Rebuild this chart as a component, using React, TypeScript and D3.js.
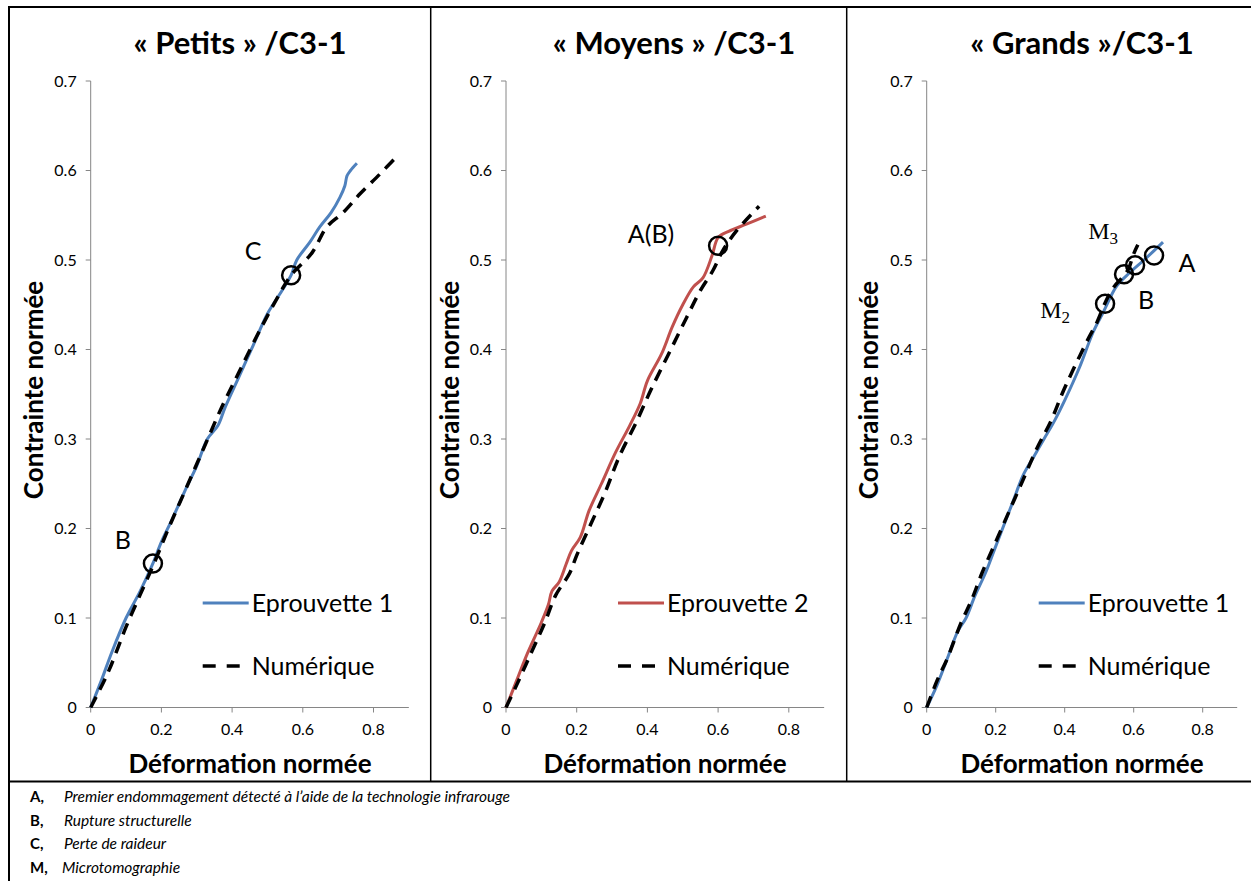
import React from "react";
import * as d3 from "d3";

// ---------- DATA ----------
const titles = ["« Petits » /C3-1", "« Moyens » /C3-1", "« Grands »/C3-1"];
const seriesNames = ["Eprouvette 1", "Eprouvette 2", "Eprouvette 1"];
const numName = "Numérique";
const xTicks = [0, 0.2, 0.4, 0.6, 0.8];
const yTicks = [0, 0.1, 0.2, 0.3, 0.4, 0.5, 0.6, 0.7];
const xLabel = "Déformation normée";
const yLabel = "Contrainte normée";

const expPetits: [number, number][] = [
  [0, 0], [0.03, 0.03], [0.06, 0.062], [0.1, 0.1], [0.14, 0.13], [0.176, 0.161], [0.2, 0.185],
  [0.23, 0.21], [0.27, 0.245], [0.3, 0.27], [0.33, 0.3], [0.36, 0.315], [0.38, 0.335],
  [0.42, 0.37], [0.46, 0.405], [0.5, 0.44], [0.54, 0.465], [0.567, 0.483], [0.583, 0.5],
  [0.62, 0.52], [0.648, 0.537], [0.68, 0.553], [0.705, 0.57], [0.719, 0.583], [0.725, 0.594],
  [0.735, 0.6], [0.753, 0.608],
];
const numPetits: [number, number][] = [
  [0, 0], [0.05, 0.04], [0.1, 0.09], [0.15, 0.135], [0.176, 0.158], [0.22, 0.2], [0.27, 0.245],
  [0.32, 0.29], [0.37, 0.335], [0.42, 0.375], [0.47, 0.415], [0.52, 0.452], [0.567, 0.483],
  [0.626, 0.508], [0.668, 0.537], [0.714, 0.553], [0.762, 0.574], [0.818, 0.596], [0.869, 0.617],
];
const expMoyens: [number, number][] = [
  [0, 0], [0.03, 0.03], [0.06, 0.06], [0.1, 0.095], [0.12, 0.115], [0.13, 0.13], [0.15, 0.14],
  [0.17, 0.16], [0.185, 0.175], [0.21, 0.19], [0.235, 0.22], [0.27, 0.25], [0.31, 0.285],
  [0.35, 0.315], [0.38, 0.34], [0.4, 0.365], [0.44, 0.395], [0.47, 0.425], [0.5, 0.45],
  [0.53, 0.47], [0.557, 0.48], [0.583, 0.505], [0.6, 0.525], [0.63, 0.532], [0.68, 0.54],
  [0.735, 0.549],
];
const numMoyens: [number, number][] = [
  [0, 0], [0.03, 0.025], [0.07, 0.06], [0.11, 0.095], [0.14, 0.125], [0.18, 0.15], [0.2, 0.17],
  [0.24, 0.205], [0.28, 0.24], [0.32, 0.28], [0.37, 0.32], [0.41, 0.355], [0.46, 0.395],
  [0.51, 0.435], [0.55, 0.466], [0.585, 0.488], [0.614, 0.511], [0.653, 0.533], [0.716, 0.56],
];
const expGrands: [number, number][] = [
  [0, 0], [0.03, 0.025], [0.06, 0.055], [0.09, 0.085], [0.114, 0.1], [0.14, 0.125], [0.17, 0.15],
  [0.2, 0.18], [0.22, 0.2], [0.25, 0.23], [0.28, 0.26], [0.31, 0.28], [0.34, 0.3], [0.37, 0.32],
  [0.401, 0.344], [0.444, 0.381], [0.482, 0.419], [0.511, 0.441], [0.551, 0.471], [0.589, 0.486],
  [0.63, 0.5], [0.685, 0.52],
];
const numGrands: [number, number][] = [
  [0, 0], [0.03, 0.03], [0.06, 0.055], [0.1, 0.095], [0.13, 0.12], [0.16, 0.15], [0.2, 0.185],
  [0.24, 0.22], [0.28, 0.255], [0.32, 0.29], [0.36, 0.32], [0.392, 0.35], [0.424, 0.377],
  [0.467, 0.411], [0.493, 0.43], [0.517, 0.452], [0.541, 0.469], [0.57, 0.482], [0.585, 0.49],
  [0.599, 0.506], [0.612, 0.517],
];

// annotations: label, x, y (data coords of circle), label offset (px)
type Ann = { label: string; sub?: string; x: number; y: number; dx: number; dy: number; serif?: boolean };
const annPetits: Ann[] = [
  { label: "B", x: 0.176, y: 0.161, dx: -30, dy: -14 },
  { label: "C", x: 0.567, y: 0.483, dx: -38, dy: -15 },
];
const annMoyens: Ann[] = [{ label: "A(B)", x: 0.6, y: 0.516, dx: -67, dy: -3 }];
const annGrands: Ann[] = [
  { label: "M", sub: "2", x: 0.517, y: 0.451, dx: -50, dy: 14, serif: true },
  { label: "B", x: 0.572, y: 0.484, dx: 22, dy: 35 },
  { label: "M", sub: "3", x: 0.604, y: 0.494, dx: -32, dy: -26, serif: true },
  { label: "A", x: 0.659, y: 0.505, dx: 33, dy: 16 },
];

const footKeys = ["A,", "B,", "C,", "M,"];
const footTexts = [
  "Premier endommagement détecté à l’aide de la technologie infrarouge",
  "Rupture structurelle",
  "Perte de raideur",
  "Microtomographie",
];

const BLUE = "#4F81BD";
const RED = "#C0504D";
const FONT = "Lato, 'Open Sans', sans-serif";

const panels = [
  { title: titles[0], titleX: 240, name: seriesNames[0], color: BLUE, exp: expPetits, num: numPetits, ann: annPetits, x0: 90.7, pxPerUnit: 353.5, yLabX: 43, xLabX: 250 },
  { title: titles[1], titleX: 674, name: seriesNames[1], color: RED, exp: expMoyens, num: numMoyens, ann: annMoyens, x0: 506, pxPerUnit: 353.5, yLabX: 459, xLabX: 665 },
  { title: titles[2], titleX: 1082, name: seriesNames[2], color: BLUE, exp: expGrands, num: numGrands, ann: annGrands, x0: 926.7, pxPerUnit: 345, yLabX: 878, xLabX: 1082 },
];

const Y0 = 707.5;
const Y1 = 81;

function Panel({ p }: { p: (typeof panels)[number] }) {
  const x = d3.scaleLinear().domain([0, 0.9]).range([p.x0, p.x0 + 0.9 * p.pxPerUnit]);
  const y = d3.scaleLinear().domain([0, 0.7]).range([Y0, Y1]);
  const line = d3.line<[number, number]>().x((d) => x(d[0])).y((d) => y(d[1])).curve(d3.curveCatmullRom);
  const axisColor = "#868686";
  const legX = p.x0 + 112;
  return (
    <g>
      <text x={p.titleX} y={54} textAnchor="middle" fontFamily={FONT} fontWeight="bold" fontSize={31} fill="#000">
        {p.title}
      </text>
      {/* y axis */}
      <line x1={x(0)} x2={x(0)} y1={y(0)} y2={y(0.7)} stroke={axisColor} strokeWidth={1} />
      {yTicks.map((t) => (
        <g key={"y" + t}>
          <line x1={x(0) - 5} x2={x(0)} y1={y(t)} y2={y(t)} stroke={axisColor} />
          <text x={x(0) - 14} y={y(t) + 5.5} textAnchor="end" fontFamily={FONT} fontSize={16} fill="#000">
            {t === 0 ? "0" : t.toFixed(1)}
          </text>
        </g>
      ))}
      {/* x axis */}
      <line x1={x(0)} x2={x(0.9)} y1={y(0)} y2={y(0)} stroke={axisColor} strokeWidth={1} />
      {xTicks.map((t) => (
        <g key={"x" + t}>
          <line x1={x(t)} x2={x(t)} y1={y(0)} y2={y(0) + 5} stroke={axisColor} />
          <text x={x(t)} y={735} textAnchor="middle" fontFamily={FONT} fontSize={16} fill="#000">
            {t === 0 ? "0" : t.toFixed(1)}
          </text>
        </g>
      ))}
      <text x={p.xLabX} y={773} textAnchor="middle" fontFamily={FONT} fontWeight="bold" fontSize={26} fill="#000">
        {xLabel}
      </text>
      <text transform={`translate(${p.yLabX},390) rotate(-90)`} textAnchor="middle" fontFamily={FONT} fontWeight="bold" fontSize={26} fill="#000">
        {yLabel}
      </text>
      {/* series */}
      <path d={line(p.exp) || ""} fill="none" stroke={p.color} strokeWidth={3} strokeLinejoin="round" />
      <path d={line(p.num) || ""} fill="none" stroke="#000" strokeWidth={3.5} strokeDasharray="12,8" />
      {/* annotations */}
      {p.ann.map((a, i) => (
        <g key={"a" + i}>
          <circle cx={x(a.x)} cy={y(a.y)} r={9} fill="none" stroke="#000" strokeWidth={2.5} />
          <text
            x={x(a.x) + a.dx}
            y={y(a.y) + a.dy}
            textAnchor="middle"
            fontFamily={a.serif ? "'Liberation Serif', 'DejaVu Serif', serif" : FONT}
            fontSize={a.serif ? 24 : 25}
            fill="#000"
          >
            {a.label}
            {a.sub ? (
              <tspan fontSize={17} dy={5}>
                {a.sub}
              </tspan>
            ) : null}
          </text>
        </g>
      ))}
      {/* legend */}
      <line x1={legX} x2={legX + 46} y1={603} y2={603} stroke={p.color} strokeWidth={3} />
      <text x={legX + 49} y={612} fontFamily={FONT} fontSize={25} fill="#000">
        {p.name}
      </text>
      <line x1={legX} x2={legX + 46} y1={666} y2={666} stroke="#000" strokeWidth={3.5} strokeDasharray="13,11" />
      <text x={legX + 49} y={675} fontFamily={FONT} fontSize={25} fill="#000">
        {numName}
      </text>
    </g>
  );
}

export default function App() {
  return (
    <svg width={1251} height={881} style={{ position: "absolute", left: 0, top: 0, background: "#fff" }}>
      <rect x={0} y={0} width={1251} height={881} fill="#fff" />
      {/* frame */}
      <rect x={9} y={7} width={1250} height={880} fill="none" stroke="#000" strokeWidth={2} />
      <line x1={430.7} x2={430.7} y1={7} y2={781} stroke="#000" strokeWidth={1.5} />
      <line x1={846.7} x2={846.7} y1={7} y2={781} stroke="#000" strokeWidth={1.5} />
      <line x1={9} x2={1251} y1={781.5} y2={781.5} stroke="#000" strokeWidth={2} />
      {panels.map((p, i) => (
        <Panel key={i} p={p} />
      ))}
      {footKeys.map((k, i) => (
        <g key={"f" + i}>
          <text x={30} y={802 + i * 23.5} fontFamily={FONT} fontWeight="bold" fontSize={15} fill="#000">
            {k}
          </text>
          <text x={i === 3 ? 62 : 64} y={802 + i * 23.5} fontFamily={FONT} fontStyle="italic" fontSize={15.5} fill="#000">
            {footTexts[i]}
          </text>
        </g>
      ))}
    </svg>
  );
}
